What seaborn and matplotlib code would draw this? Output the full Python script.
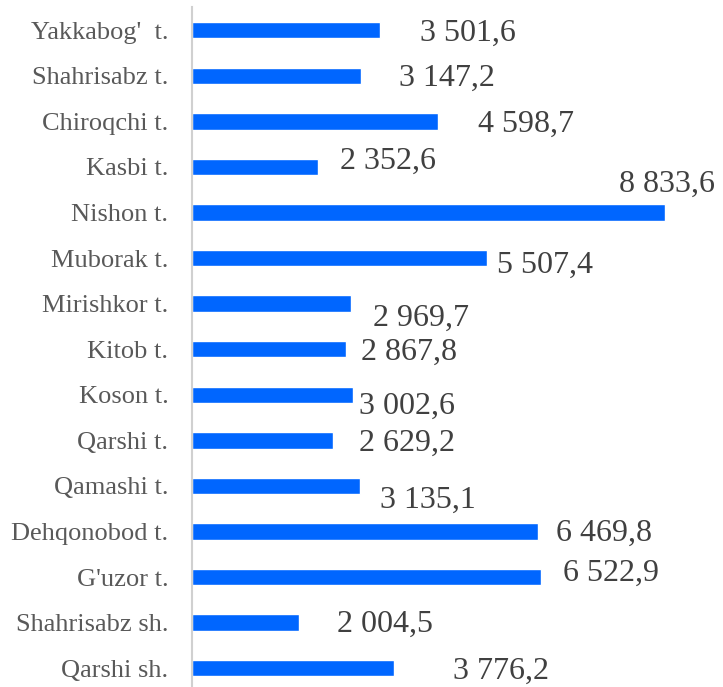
import numpy as np
import pandas as pd
import matplotlib
matplotlib.use("Agg")
import matplotlib.pyplot as plt
import seaborn as sns

# Districts, top to bottom
districts = ["Yakkabog'  t.", "Shahrisabz t.", "Chiroqchi t.", "Kasbi t.", "Nishon t.",
             "Muborak t.", "Mirishkor t.", "Kitob t.", "Koson t.", "Qarshi t.",
             "Qamashi t.", "Dehqonobod t.", "G'uzor t.", "Shahrisabz sh.", "Qarshi sh."]
values = [3501.6, 3147.2, 4598.7, 2352.6, 8833.6,
          5507.4, 2969.7, 2867.8, 3002.6, 2629.2,
          3135.1, 6469.8, 6522.9, 2004.5, 3776.2]

# label offsets in pixels from bar end / bar centre (x right, y down)
label_dx = [88, 86, 88, 70, 2, 58, 70, 63, 54, 74, 68, 66, 70, 86, 107]
label_dy = [3, 2, 3, -6, -28, 7, 15, 3, 12, 3, 14, 2, -4, 2, 3]

df = pd.DataFrame({"district": districts, "value": values})

sns.set_style("white")
plt.rcParams["font.family"] = ["Liberation Serif", "DejaVu Serif"]

dpi = 100
fig = plt.figure(figsize=(7.23, 6.87), dpi=dpi)
ax = fig.add_axes([192 / 723, -4 / 687, 531 / 723, 683.5 / 687])

sns.barplot(data=df, x="value", y="district", color="#0066FF", width=0.36,
            saturation=1, ax=ax)

ax.set_xlim(0, 531 / 0.05355)
ax.set_ylim(len(districts) - 0.5, -0.5)
ax.set_xlabel("")
ax.set_ylabel("")
ax.set_xticks([])
ax.tick_params(axis="y", length=0, labelsize=19, labelcolor="#595959", pad=17)

for s in ["top", "right", "bottom"]:
    ax.spines[s].set_visible(False)
ax.spines["left"].set_color("#D0D0D0")
ax.spines["left"].set_linewidth(1.5)

pt = 72 / dpi
for i, v in enumerate(values):
    txt = f"{v:,.1f}".replace(",", " ").replace(".", ",")
    ax.annotate(txt, xy=(v, i), xytext=(label_dx[i] * pt, -label_dy[i] * pt),
                textcoords="offset points", ha="center", va="center",
                fontsize=23, color="#404040")

fig.savefig("out.png", dpi=dpi)
